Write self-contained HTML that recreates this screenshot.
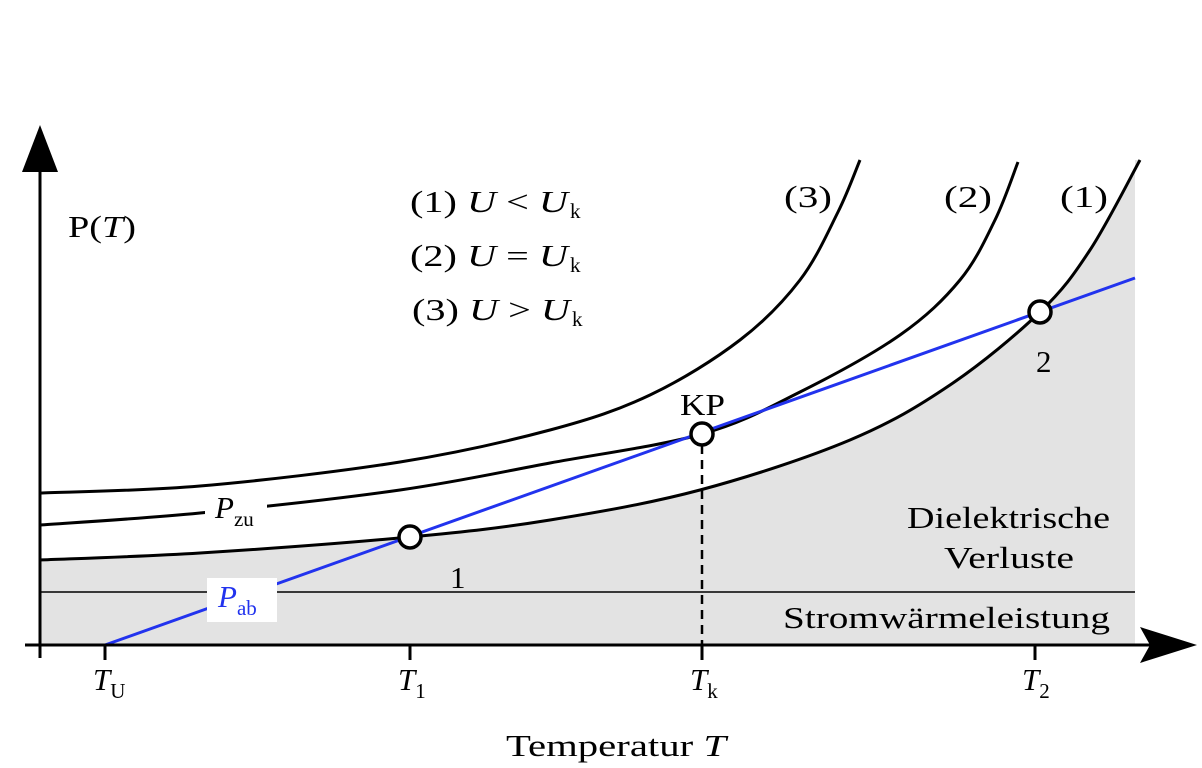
<!DOCTYPE html>
<html><head><meta charset="utf-8"><style>
html,body{margin:0;padding:0;background:#fff}
svg{display:block;font-family:"Liberation Serif",serif}
</style></head><body>
<svg id="chart" width="1202" height="768" viewBox="0 0 1202 768">
<g id="gray"></g>
<line x1="40" y1="592" x2="1135" y2="592" stroke="#000" stroke-width="1.5"/>
<g id="curves"></g>
<line id="pab" stroke="#2233ee" stroke-width="3"/>
<line x1="702" y1="445" x2="702" y2="645" stroke="#000" stroke-width="2.5" stroke-dasharray="9,6"/>
<line x1="40" y1="150" x2="40" y2="658" stroke="#000" stroke-width="3"/>
<polygon points="40,125 22,172 58,172" fill="#000"/>
<line x1="25" y1="645" x2="1160" y2="645" stroke="#000" stroke-width="3"/>
<polygon points="1197,645 1140,627 1150,645 1140,663" fill="#000"/>
<g id="ticks"></g>
<g id="points"></g>
<g font-size="31" fill="#000">
<text x="68" y="237" textLength="68" lengthAdjust="spacingAndGlyphs">P(<tspan font-style="italic">T</tspan>)</text>
<text x="506" y="756" textLength="220" lengthAdjust="spacingAndGlyphs">Temperatur <tspan font-style="italic">T</tspan></text>
<text x="410" y="212" textLength="158" lengthAdjust="spacingAndGlyphs">(1) <tspan font-style="italic">U</tspan> &lt; <tspan font-style="italic">U</tspan></text>
<text x="570" y="218" font-size="21">k</text>
<text x="410" y="266" textLength="158" lengthAdjust="spacingAndGlyphs">(2) <tspan font-style="italic">U</tspan> = <tspan font-style="italic">U</tspan></text>
<text x="570" y="272" font-size="21">k</text>
<text x="412" y="320" textLength="158" lengthAdjust="spacingAndGlyphs">(3) <tspan font-style="italic">U</tspan> &gt; <tspan font-style="italic">U</tspan></text>
<text x="572" y="326" font-size="21">k</text>
<text x="784" y="207" textLength="48" lengthAdjust="spacingAndGlyphs">(3)</text>
<text x="944" y="207" textLength="48" lengthAdjust="spacingAndGlyphs">(2)</text>
<text x="1060" y="207" textLength="48" lengthAdjust="spacingAndGlyphs">(1)</text>
<text x="680" y="415" textLength="45" lengthAdjust="spacingAndGlyphs">KP</text>
<text x="1036" y="372">2</text>
<text x="450" y="588">1</text>
<text x="907" y="528" textLength="203" lengthAdjust="spacingAndGlyphs">Dielektrische</text>
<text x="944" y="568" textLength="130" lengthAdjust="spacingAndGlyphs">Verluste</text>
<text x="783" y="628" textLength="327" lengthAdjust="spacingAndGlyphs">Stromwärmeleistung</text>
<rect x="205" y="490" width="62" height="40" fill="#fff"/>
<text x="215" y="518" font-style="italic">P<tspan font-size="21" font-style="normal" dy="8">zu</tspan></text>
<rect x="207" y="578" width="70" height="44" fill="#fff"/>
<text x="218" y="607" font-style="italic" fill="#2233ee">P<tspan font-size="21" font-style="normal" dy="8">ab</tspan></text>
<text x="93" y="690" font-style="italic">T<tspan font-size="21" font-style="normal" dy="8">U</tspan></text>
<text x="398" y="690" font-style="italic">T<tspan font-size="21" font-style="normal" dy="8">1</tspan></text>
<text x="690" y="690" font-style="italic">T<tspan font-size="21" font-style="normal" dy="8">k</tspan></text>
<text x="1022" y="690" font-style="italic">T<tspan font-size="21" font-style="normal" dy="8">2</tspan></text>
</g>
</svg>
<script>
const curve1 = [[40,560],[200,553],[410,537],[550,520],[700,490],[850,440],[950,385],[1040,312],[1090,250],[1140,160]];
const curve2 = [[40,525],[200,513],[400,490],[550,463],[702,434],[800,392],[900,335],[960,280],[995,220],[1018,162]];
const curve3 = [[40,493],[200,486],[400,462],[550,430],[650,395],[740,340],[800,280],[838,212],[860,160]];
const pabLine = [[105,645],[1135,278]];
const tickXs = [105,410,702,1035];
const markers = [[410,537],[702,434],[1040,312]];
const NS='http://www.w3.org/2000/svg';
function smooth(p){let d='M'+p[0][0]+','+p[0][1];for(let i=0;i<p.length-1;i++){const a=p[i-1]||p[i],b=p[i],c=p[i+1],e=p[i+2]||c;d+=' C'+(b[0]+(c[0]-a[0])/6)+','+(b[1]+(c[1]-a[1])/6)+' '+(c[0]-(e[0]-b[0])/6)+','+(c[1]-(e[1]-b[1])/6)+' '+c[0]+','+c[1];}return d;}
const g=document.getElementById('gray');
const area=document.createElementNS(NS,'path');
area.setAttribute('d',smooth(curve1)+' L1135,160 L1135,645 L40,645 Z');
area.setAttribute('fill','#e3e3e3');


g.appendChild(area);
const cg=document.getElementById('curves');
[[curve1,'curve-1'],[curve2,'curve-2'],[curve3,'curve-3']].forEach(([c,n])=>{const p=document.createElementNS(NS,'path');p.setAttribute('d',smooth(c));p.setAttribute('fill','none');p.setAttribute('stroke','#000');p.setAttribute('stroke-width','3');


cg.appendChild(p);});
const pl=document.getElementById('pab');
pl.setAttribute('x1',pabLine[0][0]);pl.setAttribute('y1',pabLine[0][1]);pl.setAttribute('x2',pabLine[1][0]);pl.setAttribute('y2',pabLine[1][1]);
const tg=document.getElementById('ticks');
tickXs.forEach(x=>{const l=document.createElementNS(NS,'line');l.setAttribute('x1',x);l.setAttribute('x2',x);l.setAttribute('y1',645);l.setAttribute('y2',660);l.setAttribute('stroke','#000');l.setAttribute('stroke-width','3');


tg.appendChild(l);});
const mg=document.getElementById('points');
markers.forEach(m=>{const c=document.createElementNS(NS,'circle');c.setAttribute('cx',m[0]);c.setAttribute('cy',m[1]);c.setAttribute('r',11);c.setAttribute('fill','#fff');c.setAttribute('stroke','#000');c.setAttribute('stroke-width','3.5');


mg.appendChild(c);});
</script>
</body></html>
